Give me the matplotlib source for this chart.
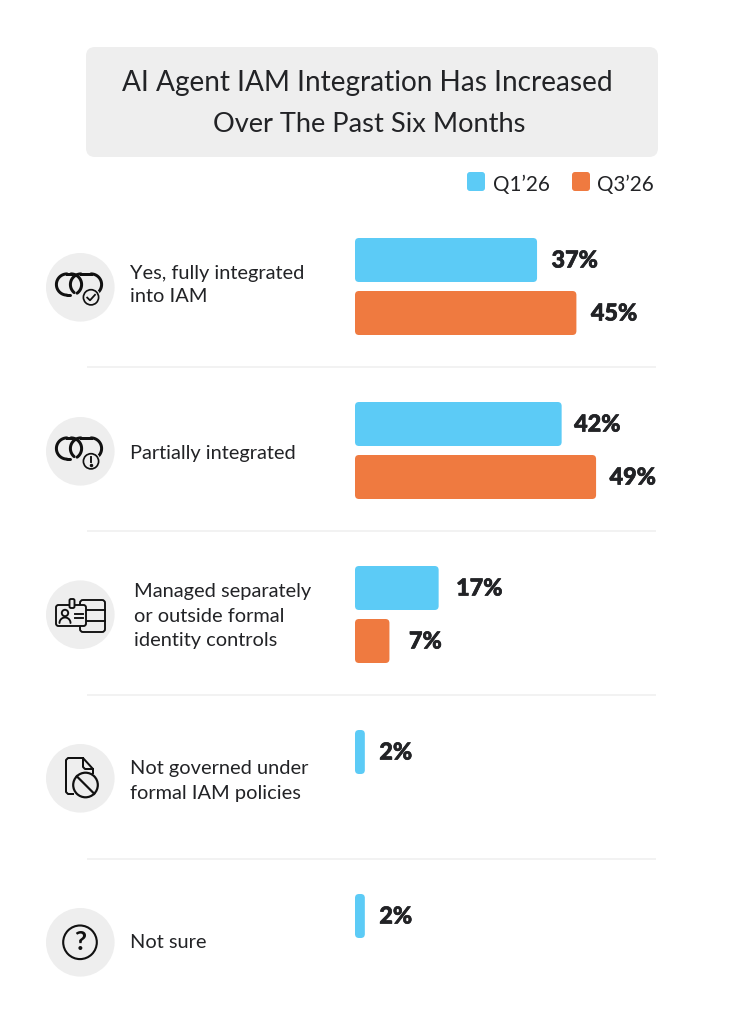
import matplotlib
matplotlib.use("Agg")
import numpy as np
import matplotlib.pyplot as plt
import matplotlib.patheffects as pe
from matplotlib.patches import FancyBboxPatch, Circle

# ---- data ----
title_lines = ["AI Agent IAM Integration Has Increased", "Over The Past Six Months"]
series_names = ["Q1’26", "Q3’26"]
categories = [
    "Yes, fully integrated\ninto IAM",
    "Partially integrated",
    "Managed separately\nor outside formal\nidentity controls",
    "Not governed under\nformal IAM policies",
    "Not sure",
]
q1_values = [37, 42, 17, 2, 2]
q3_values = [45, 49, 7, None, None]

# ---- style ----
BLUE, ORANGE = "#5CCBF6", "#EF7A40"
INK, PANEL, RULE = "#222326", "#EEEEEE", "#EFEFEF"
W, H = 732, 1024
plt.rcParams["font.family"] = ["Lato", "DejaVu Sans"]
fig = plt.figure(figsize=(W / 100, H / 100), dpi=100, facecolor="white")
px = 100 / 72  # px per pt

bg = fig.add_axes([0, 0, 1, 1])
bg.set_xlim(0, W); bg.set_ylim(H, 0); bg.axis("off")

def lw(p):
    return p / px

# title panel
bg.add_patch(FancyBboxPatch((86, 47), 572, 110, boxstyle="round,pad=0,rounding_size=9", fc=PANEL, ec="none"))
for line, y, fs, xc in zip(title_lines, [83, 124.5], [20.2, 19.6], [367, 369.5]):
    bg.text(xc, y, line, ha="center", va="center", fontsize=fs, color=INK)

# legend
for x0, c, name in zip([467, 572], [BLUE, ORANGE], series_names):
    bg.add_patch(FancyBboxPatch((x0, 172), 18, 19, boxstyle="round,pad=0,rounding_size=3", fc=c, ec="none"))
    bg.text(x0 + 25.5, 184.5, name, ha="left", va="center", fontsize=14.9, color=INK)

ROW0, STEP = 286.5, 164
row_y = [ROW0 + STEP * i for i in range(len(categories))]

# separators
for y in [367, 531, 695, 859]:
    bg.plot([87, 656], [y, y], color=RULE, lw=lw(1.6), solid_capstyle="butt")

# category labels
label_x = [129.5, 129.5, 134, 129.5, 129.5]
label_dy = [-1.5, 2.5, 1.5, 2.5, 0]
label_sp = [1.5, 1.5, 1.55, 1.53, 1.5]
for y, cat, x, d, sp in zip(row_y, categories, label_x, label_dy, label_sp):
    bg.text(x, y + d, cat, ha="left", va="center", fontsize=14.4, color=INK, linespacing=sp)

# bars: x axis is percent, y axis is pixels
SCALE = 4.92
bar_ax = fig.add_axes([355 / W, 0, (W - 355) / W, 1])
bar_ax.set_xlim(0, (W - 355) / SCALE); bar_ax.set_ylim(H, 0); bar_ax.axis("off")
bar_ax.patch.set_alpha(0)
BAR_H = 44
q1_gap = [14.5, 12.5, 17.5, 14.5, 14.5]
q3_gap = [14.5, 13.5, 19.5, 0, 0]
for y, a, b, ga, gb in zip(row_y, q1_values, q3_values, q1_gap, q3_gap):
    for v, c, top, g in ((a, BLUE, y - 48.5, ga), (b, ORANGE, y + 4.5, gb)):
        if v is None:
            continue
        bar_ax.add_patch(FancyBboxPatch((0, top), v, BAR_H,
                                        boxstyle=f"round,pad=0,rounding_size={4 / SCALE}",
                                        mutation_aspect=SCALE, fc=c, ec="none"))
        t = bar_ax.annotate(f"{v}%", (v, top + BAR_H / 2), xytext=(g / px, -1 / px), textcoords="offset points",
                            ha="left", va="center", fontsize=16.8, fontweight="black", color=INK)
        t.set_path_effects([pe.withStroke(linewidth=0.5, foreground=INK)])

# ---- icons ----
CX = 80.3
ICK = "#111111"
centers = [287.3, 451.3, 614.7, 778.3, 942.3]
for cy in centers:
    bg.add_patch(Circle((CX, cy), 34.3, fc=PANEL, ec="none"))

def arc(cx, cy, r, t1, t2, width, z=2):
    # angles in degrees measured on screen, clockwise from +x because y grows downward
    t = np.radians(np.linspace(t1, t2, 40))
    bg.plot(cx + r * np.cos(t), cy + r * np.sin(t), color=ICK, lw=width, zorder=z, solid_capstyle="round")

def chain(cy):
    r, m, w = 10.6, cy - 2.8, lw(3)
    # left link
    arc(67, m, r, 90, 270, w)
    arc(71, m, r, -90, 55, w)
    bg.plot([67, 71], [m - r, m - r], color=ICK, lw=w)
    bg.plot([67, 70], [m + r, m + r], color=ICK, lw=w, solid_capstyle="round")
    # right link
    arc(81, m, r, 130, 270, w)
    arc(91, m, r, -90, 60, w)
    bg.plot([81, 91], [m - r, m - r], color=ICK, lw=w)

def badge(cy):
    bg.add_patch(Circle((91, cy + 10), 9.6, fc=PANEL, ec="none", zorder=4))
    bg.add_patch(Circle((91, cy + 10), 7.6, fc=PANEL, ec=ICK, lw=lw(1.7), zorder=5))

cy = centers[0]
chain(cy); badge(cy)
bg.plot([87.2, 90, 95], [cy + 10.3, cy + 13, cy + 7.5], color=ICK, lw=lw(1.8), zorder=6)

cy = centers[1]
chain(cy); badge(cy)
bg.plot([91, 91], [cy + 6, cy + 11], color=ICK, lw=lw(1.9), zorder=6)
bg.plot([91], [cy + 13.8], "o", ms=1.5, color=ICK, zorder=6)

# icon 3: ID card + list
s3 = lw(1.9)
bg.add_patch(FancyBboxPatch((80, 600), 25, 32, boxstyle="round,pad=0,rounding_size=3", fc="none", ec=ICK, lw=s3))
for y in (610, 621):
    bg.plot([86, 105], [y, y], color=ICK, lw=s3)
bg.add_patch(FancyBboxPatch((56, 605), 30, 21, boxstyle="round,pad=0,rounding_size=2.5", fc=PANEL, ec=ICK, lw=s3, zorder=3))
bg.add_patch(FancyBboxPatch((69.5, 599), 5, 9, boxstyle="round,pad=0,rounding_size=1.5", fc=PANEL, ec=ICK, lw=s3, zorder=4))
bg.add_patch(Circle((65, 613), 3.2, fc="none", ec=ICK, lw=s3, zorder=4))
arc(65, 623, 5.5, 180, 360, s3, z=4)
for y in (613.5, 618):
    bg.plot([75, 83], [y, y], color=ICK, lw=s3, zorder=4)

# icon 4: document + no-sign
s4 = lw(2)
bg.plot([73, 68, 66, 66, 68, 83, 93, 93], [794, 794, 792, 760, 758, 758, 769, 773], color=ICK, lw=s4, solid_joinstyle="round")
bg.plot([83, 83, 85, 93], [758, 767, 769, 769], color=ICK, lw=s4)
bg.add_patch(Circle((85.5, 785), 12.3, fc=PANEL, ec=ICK, lw=lw(2.2), zorder=3))
bg.plot([76.8, 94.2], [776.3, 793.7], color=ICK, lw=lw(2.2), zorder=4)

# icon 5: question mark
bg.add_patch(Circle((80, 942.3), 16.8, fc="none", ec=ICK, lw=lw(2.1)))
bg.text(80, 942.5, "?", ha="center", va="center", fontsize=19, color=ICK, fontweight="bold")

fig.savefig("out.png", dpi=100, facecolor="white")
